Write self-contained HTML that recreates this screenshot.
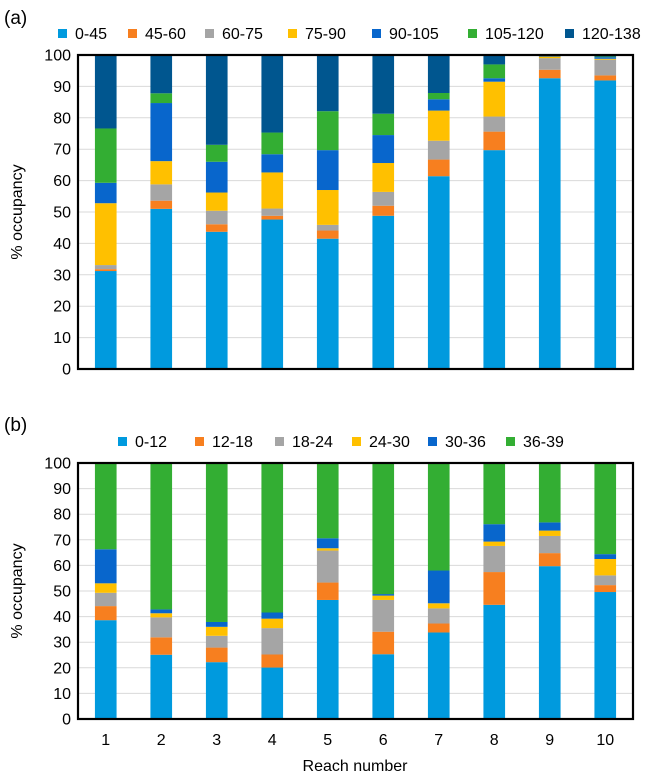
<!DOCTYPE html>
<html><head><meta charset="utf-8"><style>
body{margin:0;background:#fff;}
svg{display:block;font-family:"Liberation Sans",Arial,sans-serif;}
</style></head><body>
<svg id="c" width="647" height="777" viewBox="0 0 647 777" xmlns="http://www.w3.org/2000/svg"></svg>
<script>
const categories = ["1","2","3","4","5","6","7","8","9","10"];
const yTicks = [0,10,20,30,40,50,60,70,80,90,100];
const seriesA = ["0-45","45-60","60-75","75-90","90-105","105-120","120-138"];
const seriesB = ["0-12","12-18","18-24","24-30","30-36","36-39"];
// panel (a) segment values per bar (%), order of seriesA
const a_0_45    = [31.2,51.0,43.7,47.6,41.5,48.8,61.4,69.7,92.6,91.9];
const a_45_60   = [0.6,2.6,2.4,1.2,2.6,3.2,5.3,5.9,2.7,1.6];
const a_60_75   = [1.3,5.2,4.3,2.3,1.8,4.4,6.0,4.8,3.7,5.0];
const a_75_90   = [19.7,7.4,5.8,11.5,11.1,9.2,9.6,11.1,0.5,0.3];
const a_90_105  = [6.5,18.5,9.8,5.8,12.7,8.9,3.6,1.1,0.2,0.5];
const a_105_120 = [17.3,3.1,5.4,6.9,12.4,6.8,2.0,4.4,0.2,0.2];
const a_120_138 = [23.4,12.2,28.6,24.7,17.9,18.7,12.1,3.0,0.1,0.5];
// panel (b)
const b_0_12  = [38.6,25.1,22.2,20.1,46.5,25.3,33.8,44.6,59.7,49.6];
const b_12_18 = [5.5,6.8,5.7,5.1,6.8,8.8,3.5,12.8,5.1,2.7];
const b_18_24 = [5.2,7.8,4.6,10.3,12.5,12.4,5.9,10.2,6.7,3.8];
const b_24_30 = [3.7,1.6,3.5,3.7,0.9,1.7,2.0,1.7,2.1,6.4];
const b_30_36 = [13.3,1.5,1.9,2.4,3.9,0.6,12.8,6.8,3.2,1.9];
const b_36_39 = [33.7,57.2,62.1,58.4,29.4,51.2,42.0,23.9,23.2,35.6];

const colA = ["#009ade","#f77f1f","#a5a5a5","#ffc000","#0866cc","#33ae33","#00568f"];
const colB = ["#009ade","#f77f1f","#a5a5a5","#ffc000","#0866cc","#33ae33"];
const NS="http://www.w3.org/2000/svg";
const svg=document.getElementById('c');
function mk(tag,attrs,parent){const e=document.createElementNS(NS,tag);for(const k in attrs)e.setAttribute(k,attrs[k]);(parent||svg).appendChild(e);return e;}

function panel(cfg){
  const g=mk('g',{});
  
  
  const L=78,R=633,T=cfg.top,B=cfg.bottom;
  const y=v=>B-(v/100)*(B-T);
  const band=(R-L)/categories.length;
  const x=i=>L+band*i+band/2;
  yTicks.forEach(t=>{
    if(t>0&&t<100){const gl=mk('line',{x1:L,x2:R,y1:y(t),y2:y(t),stroke:'#d9d9d9','stroke-width':1},g);
      
      }
    const tx=mk('text',{x:L-7,y:y(t)+5.5,'text-anchor':'end','font-size':16,fill:'#000'},g);
    tx.textContent=t;
    
    
  });
  const bw=band*0.39;
  categories.forEach((c,i)=>{
    let acc=0;
    cfg.data.forEach((arr,s)=>{
      const v=arr[i];
      const r=mk('rect',{x:x(i)-bw/2,y:y(acc+v),width:bw,height:Math.max(0,y(acc)-y(acc+v)),fill:cfg.colors[s]},g);
      
      
      acc+=v;
    });
    if(cfg.xlabels){
      const tx=mk('text',{x:x(i),y:B+26,'text-anchor':'middle','font-size':16},g);
      tx.textContent=c;
      
      
    }
  });
  const fr=mk('rect',{x:L,y:T,width:R-L,height:B-T,fill:'none',stroke:'#000','stroke-width':2.2},g);
  
  
  const yt=mk('text',{x:0,y:0,'text-anchor':'middle','font-size':16,transform:`translate(22,${(T+B)/2}) rotate(-90)`},g);
  yt.textContent='% occupancy';
  
  
  const pl=mk('text',{x:4,y:cfg.labelY,'font-size':19},g);
  pl.textContent=cfg.label;
  
  
  cfg.series.forEach((s,k)=>{
    const lx=cfg.legX[k];
    const lg=mk('g',{},g);
    
    
    mk('rect',{x:lx,y:cfg.legY-9,width:9,height:9,fill:cfg.colors[k]},lg);
    const t=mk('text',{x:lx+17,y:cfg.legY+1,'font-size':16},lg);
    t.textContent=s;
  });
}
panel({name:'chart-a',top:55,bottom:369,data:[a_0_45,a_45_60,a_60_75,a_75_90,a_90_105,a_105_120,a_120_138],colors:colA,series:seriesA,label:'(a)',labelY:24,legY:38,legX:[58,128,205,288,372,468,565],xlabels:false});
panel({name:'chart-b',top:463,bottom:719,data:[b_0_12,b_12_18,b_18_24,b_24_30,b_30_36,b_36_39],colors:colB,series:seriesB,label:'(b)',labelY:431,legY:446,legX:[118,195,275,352,428,506],xlabels:true});
const xt=mk('text',{x:355,y:771,'text-anchor':'middle','font-size':16});
xt.textContent='Reach number';


</script>
</body></html>
